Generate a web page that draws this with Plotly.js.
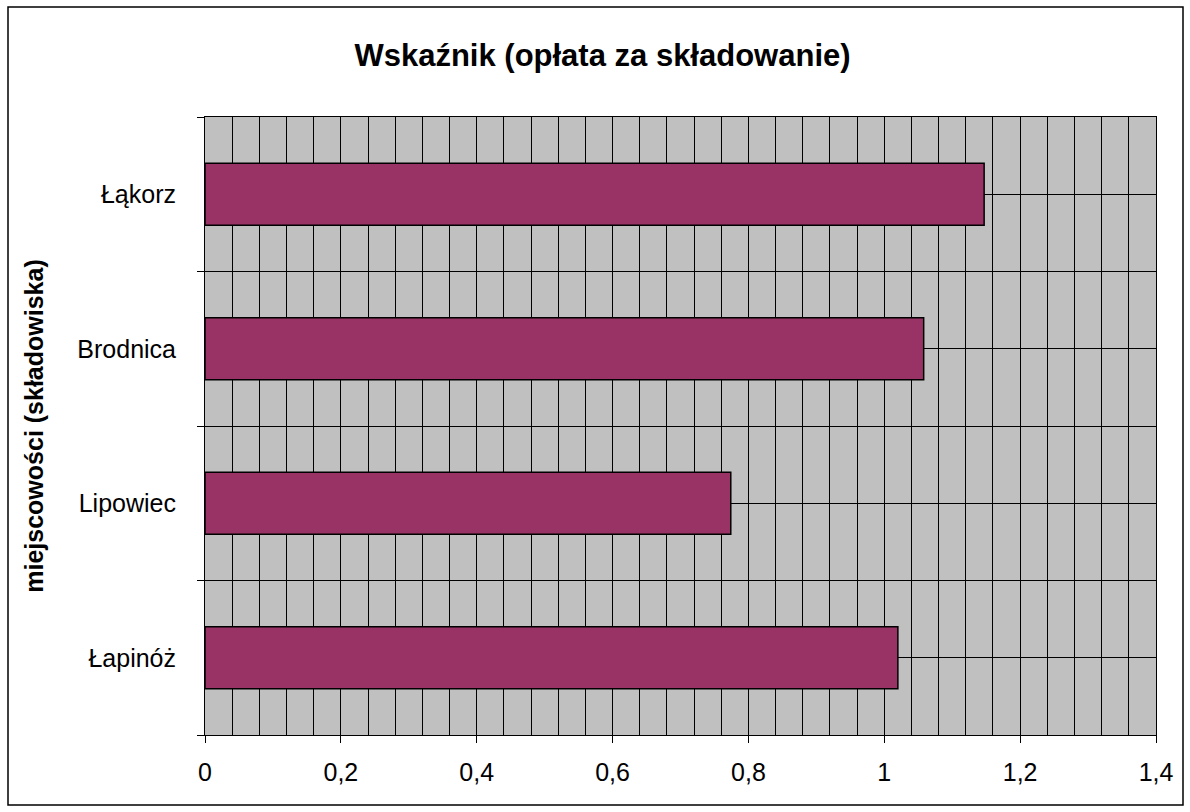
<!DOCTYPE html>
<html>
<head>
<meta charset="utf-8">
<script src="https://cdn.plot.ly/plotly-3.0.1.min.js"></script>
<style>html,body{margin:0;padding:0;background:#fff;}#chart{width:1190px;height:812px;}</style>
</head>
<body>
<div id="chart"></div>
<script>
const categories = ["Łąkorz", "Brodnica", "Lipowiec", "Łapinóż"];
const values = [1.147, 1.058, 0.774, 1.020];
const chartTitle = "Wskaźnik (opłata za składowanie)";
const yTitle = "miejscowości (składowiska)";

const positions = categories.map((c, i) => i);

const trace = {
  type: "bar",
  orientation: "h",
  x: values,
  y: positions,
  marker: { color: "#993366", line: { color: "#000000", width: 1.5 } },
  hoverinfo: "x+text",
  text: categories,
  textposition: "none"
};

const layout = {
  width: 1190,
  height: 812,
  margin: { l: 205, r: 34, t: 117, b: 77 },
  paper_bgcolor: "#ffffff",
  plot_bgcolor: "#C0C0C0",
  separators: ", ",
  font: { family: "Liberation Sans, Arial, sans-serif", size: 25, color: "#000" },
  showlegend: false,
  bargap: 0.6,
  title: {
    text: "<b>" + chartTitle + "</b>",
    font: { family: "Liberation Sans, Arial, sans-serif", size: 31, color: "#000" },
    x: (352 + 853) / 2 / 1190, xref: "container", xanchor: "center",
    y: 1 - 55 / 812, yref: "container", yanchor: "middle"
  },
  xaxis: {
    range: [0, 1.4],
    dtick: 0.2,
    tick0: 0,
    ticks: "outside",
    ticklen: 7,
    tickcolor: "#000",
    showgrid: true,
    gridcolor: "#000",
    gridwidth: 1,
    zeroline: false,
    showline: true,
    linecolor: "#000",
    linewidth: 1,
    mirror: true,
    ticklabelstandoff: 8,
    tickfont: { size: 25 },
    minor: { dtick: 0.04, tick0: 0, showgrid: true, gridcolor: "#000", gridwidth: 1, ticks: "" }
  },
  yaxis: {
    range: [3.5, -0.5],
    tickmode: "array",
    tickvals: positions,
    ticktext: categories,
    ticks: "",
    showgrid: true,
    gridcolor: "#000",
    gridwidth: 1,
    zeroline: false,
    showline: true,
    linecolor: "#000",
    linewidth: 1,
    mirror: true,
    ticklabelstandoff: 23,
    tickfont: { size: 25 },
    minor: { tick0: 0.5, dtick: 1, ticks: "outside", ticklen: 7, tickcolor: "#000", showgrid: true, gridcolor: "#000", gridwidth: 1 },
    title: {
      text: "<b>" + yTitle + "</b>",
      font: { size: 25 },
      standoff: 26
    }
  },
  shapes: [{
    type: "rect", xref: "paper", yref: "paper",
    x0: (8 - 205) / 951, x1: (1183 - 205) / 951,
    y0: (735 - 805) / 618, y1: (735 - 7) / 618,
    line: { color: "#000", width: 1.5 }, fillcolor: "rgba(0,0,0,0)", layer: "below"
  }]
};

Plotly.newPlot("chart", [trace], layout, { displayModeBar: false, staticPlot: true });
</script>
</body>
</html>
